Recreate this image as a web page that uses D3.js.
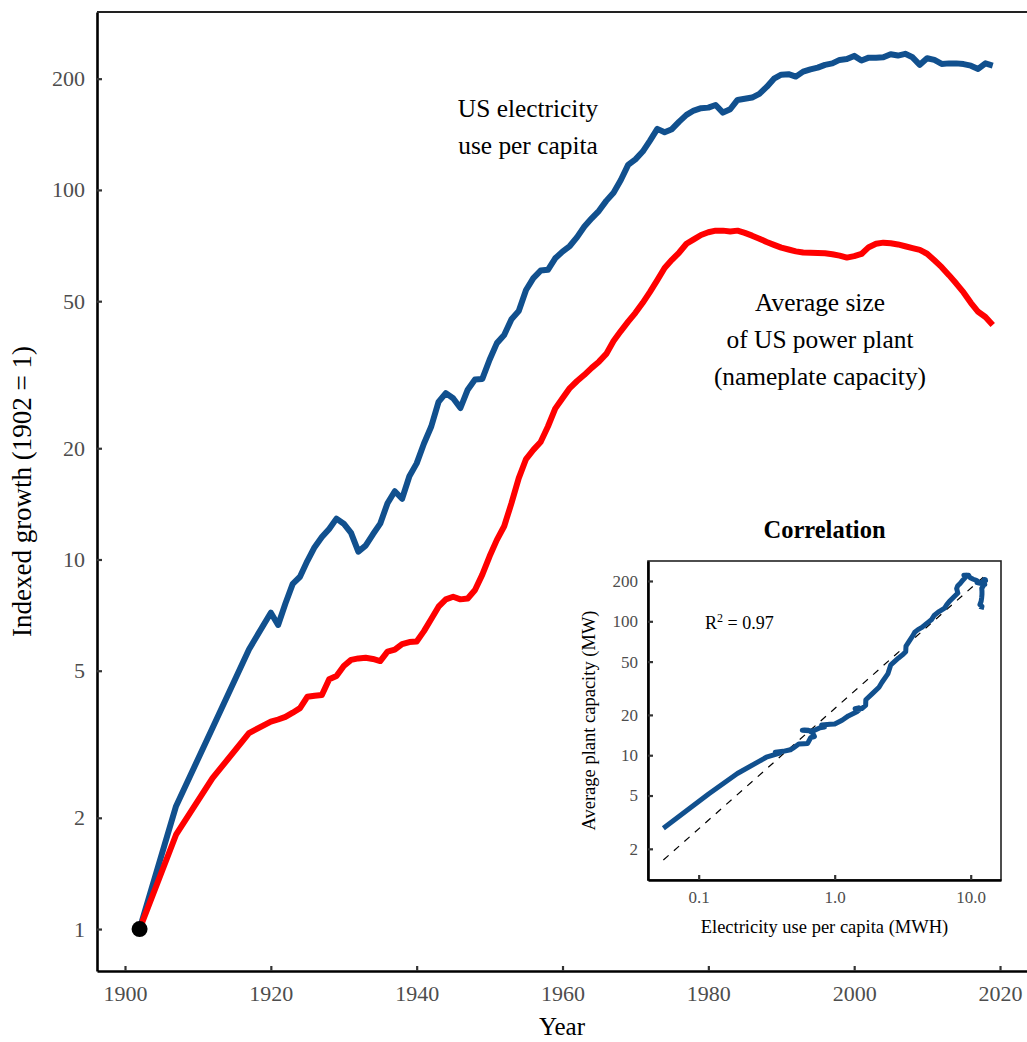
<!DOCTYPE html>
<html>
<head>
<meta charset="utf-8">
<script src="https://cdn.jsdelivr.net/npm/d3@7"></script>
<style>
  html, body { margin: 0; padding: 0; background: #fff; }
  svg, svg text, svg tspan { font-family: "Liberation Serif", "Times New Roman", Times, serif !important; }
</style>
</head>
<body>
<svg id="chart" width="1027" height="1042" font-family="Liberation Serif, serif"></svg>
<script>
// ---------- DATA ----------
const years = [1902, 1907, 1912, 1917,
  1920, 1921, 1922, 1923, 1924, 1925, 1926, 1927, 1928, 1929,
  1930, 1931, 1932, 1933, 1934, 1935, 1936, 1937, 1938, 1939,
  1940, 1941, 1942, 1943, 1944, 1945, 1946, 1947, 1948, 1949,
  1950, 1951, 1952, 1953, 1954, 1955, 1956, 1957, 1958, 1959,
  1960, 1961, 1962, 1963, 1964, 1965, 1966, 1967, 1968, 1969,
  1970, 1971, 1972, 1973, 1974, 1975, 1976, 1977, 1978, 1979,
  1980, 1981, 1982, 1983, 1984, 1985, 1986, 1987, 1988, 1989,
  1990, 1991, 1992, 1993, 1994, 1995, 1996, 1997, 1998, 1999,
  2000, 2001, 2002, 2003, 2004, 2005, 2006, 2007, 2008, 2009,
  2010, 2011, 2012, 2013, 2014, 2015, 2016, 2017, 2018, 2019];

// US electricity use per capita, indexed (1902 = 1)
const electricityIndex = [1, 2.15, 3.5, 5.71,
  7.18, 6.65, 7.6, 8.59, 8.98, 9.9, 10.8, 11.5, 12.1, 12.9,
  12.5, 11.8, 10.5, 10.9, 11.7, 12.5, 14.2, 15.3, 14.6, 16.8,
  18.2, 20.6, 22.9, 26.7, 28.2, 27.3, 25.7, 28.8, 30.7, 30.8,
  34.7, 38.5, 40.5, 44.7, 47.0, 53.6, 57.7, 60.5, 60.8, 65.3,
  68.1, 70.5, 74.5, 79.6, 83.8, 87.8, 93.4, 98.3, 106.4, 116.9,
  121, 127, 136, 146.3, 143.3, 146, 153, 159.6, 164, 166.4,
  167, 169.8, 161.9, 165.3, 175.2, 176.5, 177.8, 182, 190, 200,
  205, 205.7, 202.6, 209, 212, 214.3, 218, 220, 224.8, 226,
  230.5, 223.9, 228, 228, 228.5, 232.9, 231, 233.5, 228.5, 218,
  227.2, 224.8, 219.3, 220, 220, 219, 216.9, 212.5, 220, 217];

// Average size of US power plant (nameplate capacity), indexed (1902 = 1)
const plantSizeIndex = [1, 1.80, 2.56, 3.39,
  3.64, 3.69, 3.75, 3.85, 3.96, 4.25, 4.28, 4.30, 4.74, 4.84,
  5.15, 5.35, 5.40, 5.42, 5.38, 5.31, 5.63, 5.70, 5.90, 5.98,
  6.0, 6.4, 6.9, 7.45, 7.8, 7.93, 7.8, 7.84, 8.27, 9.1,
  10.2, 11.3, 12.3, 14.2, 16.6, 18.7, 19.8, 20.8, 22.9, 25.6,
  27.3, 29.1, 30.4, 31.6, 33.0, 34.3, 36.0, 39.0, 41.5, 44,
  46.5, 49.5, 53, 57, 61.5, 64.7, 67.7, 71.5, 73.5, 75.5,
  76.8, 77.6, 77.6, 77.2, 77.6, 76.5, 75.2, 73.8, 72.3, 71,
  69.8, 69, 68.2, 67.7, 67.6, 67.5, 67.4, 67, 66.4, 65.6,
  66.2, 67.1, 70, 71.5, 72, 71.7, 71.2, 70.4, 69.6, 68.8,
  67.2, 64.5, 61.8, 58.8, 55.8, 52.8, 49.5, 46.8, 45.3, 43.1];

// 1902 base levels (absolute units) used for the correlation inset
const electricityBase1902MWh = 0.055;
const plantSizeBase1902MW = 2.85;

// Fitted log-log line in the inset: capacity = fitAt1 * use^fitSlope
const fitSlope = 0.898;
const fitAt1 = 22.3;
const fitLabel = "0.97";

const mainYTicks = [1, 2, 5, 10, 20, 50, 100, 200];
const mainXTicks = [1900, 1920, 1940, 1960, 1980, 2000, 2020];
const insetYTicks = [2, 5, 10, 20, 50, 100, 200];
const insetXTicks = [0.1, 1, 10];
const insetXTickLabels = ["0.1", "1.0", "10.0"];

// ---------- DRAW ----------
const FONT = '"Liberation Serif", "Times New Roman", Times, serif';
const svg = d3.select("#chart");
const BLUE = "#11508e";
const RED = "#ff0000";
const TICKGREY = "#4d4d4d";

const M = { left: 97, right: 1027, top: 12, bottom: 971 };
const x = d3.scaleLinear().domain([1896.16, 2023.7]).range([M.left, M.right]);
const y = d3.scaleLog().domain([0.77, 303]).range([M.bottom, M.top]);

function styleAxis(g, fs) {
  g.attr("font-family", FONT);
  g.select(".domain").attr("stroke", "#000").attr("stroke-width", 2.6);
  g.selectAll(".tick line").attr("stroke", "#333").attr("stroke-width", 2.2);
  g.selectAll(".tick text").attr("fill", TICKGREY).style("font-size", fs + "px")
    .style("font-family", FONT);
}

// axes (inward ticks)
const gx = svg.append("g").attr("transform", `translate(0,${M.bottom})`)
  .call(d3.axisBottom(x).tickValues(mainXTicks).tickFormat(d3.format("d"))
    .tickSizeInner(-5).tickSizeOuter(0).tickPadding(14));
styleAxis(gx, 22);

const gy = svg.append("g").attr("transform", `translate(${M.left},0)`)
  .call(d3.axisLeft(y).tickValues(mainYTicks).tickFormat(d3.format("d"))
    .tickSizeInner(-5).tickSizeOuter(0).tickPadding(12));
styleAxis(gy, 22);

// top border
svg.append("line").attr("x1", M.left).attr("x2", M.right)
  .attr("y1", M.top).attr("y2", M.top)
  .attr("stroke", "#222").attr("stroke-width", 2);

function txt(sel) { return sel.style("font-family", FONT).attr("fill", "#000"); }

// axis titles
txt(svg.append("text")).attr("x", (M.left + M.right) / 2).attr("y", 1035)
  .attr("text-anchor", "middle").style("font-size", "25px").text("Year");
txt(svg.append("text"))
  .attr("transform", `translate(31,${(M.top + M.bottom) / 2}) rotate(-90)`)
  .attr("text-anchor", "middle").style("font-size", "27px")
  .text("Indexed growth (1902 = 1)");

// lines
const series = years.map((yr, i) => ({ yr, e: electricityIndex[i], p: plantSizeIndex[i] }));
const lineE = d3.line().x(d => x(d.yr)).y(d => y(d.e));
const lineP = d3.line().x(d => x(d.yr)).y(d => y(d.p));
svg.append("path").datum(series).attr("d", lineE).attr("fill", "none")
  .attr("stroke", BLUE).attr("stroke-width", 6).attr("stroke-linejoin", "round");
svg.append("path").datum(series).attr("d", lineP).attr("fill", "none")
  .attr("stroke", RED).attr("stroke-width", 6).attr("stroke-linejoin", "round");

// base point
svg.append("circle").attr("cx", x(years[0])).attr("cy", y(1)).attr("r", 8).attr("fill", "#000");

// annotations
const ann1 = txt(svg.append("text")).attr("text-anchor", "middle").style("font-size", "25.4px");
ann1.append("tspan").attr("x", 528).attr("y", 117).text("US electricity");
ann1.append("tspan").attr("x", 528).attr("y", 154).text("use per capita");
const ann2 = txt(svg.append("text")).attr("text-anchor", "middle").style("font-size", "25.4px");
ann2.append("tspan").attr("x", 820).attr("y", 311).text("Average size");
ann2.append("tspan").attr("x", 820).attr("y", 348).text("of US power plant");
ann2.append("tspan").attr("x", 820).attr("y", 385).text("(nameplate capacity)");

// ---------- INSET ----------
const I = { left: 648, right: 1001, top: 561, bottom: 880 };
const ix = d3.scaleLog().domain([0.0424, 16.7]).range([I.left, I.right]);
const iy = d3.scaleLog().domain([1.17, 282]).range([I.bottom, I.top]);

svg.append("rect").attr("x", I.left).attr("y", I.top)
  .attr("width", I.right - I.left).attr("height", I.bottom - I.top)
  .attr("fill", "#fff").attr("stroke", "#222").attr("stroke-width", 1.6);

const ix_g = svg.append("g").attr("transform", `translate(0,${I.bottom})`)
  .call(d3.axisBottom(ix).tickValues(insetXTicks)
    .tickFormat((d, i) => insetXTickLabels[i])
    .tickSizeInner(-5).tickSizeOuter(0).tickPadding(11));
styleAxis(ix_g, 17);

const iy_g = svg.append("g").attr("transform", `translate(${I.left},0)`)
  .call(d3.axisLeft(iy).tickValues(insetYTicks).tickFormat(d3.format("d"))
    .tickSizeInner(-5).tickSizeOuter(0).tickPadding(10));
styleAxis(iy_g, 17);

// fit line (dashed)
const uses = series.map(d => d.e * electricityBase1902MWh);
const fitX = d3.extent(uses);
const fitPts = fitX.map(u => [u, fitAt1 * Math.pow(u, fitSlope)]);
svg.append("path").datum(fitPts)
  .attr("d", d3.line().x(d => ix(d[0])).y(d => iy(d[1])))
  .attr("fill", "none").attr("stroke", "#000").attr("stroke-width", 1.2)
  .attr("stroke-dasharray", "7,7");

// correlation path
svg.append("path").datum(series)
  .attr("d", d3.line().x(d => ix(d.e * electricityBase1902MWh)).y(d => iy(d.p * plantSizeBase1902MW)))
  .attr("fill", "none").attr("stroke", BLUE).attr("stroke-width", 5)
  .attr("stroke-linejoin", "round");

// inset texts
txt(svg.append("text")).attr("x", (I.left + I.right) / 2).attr("y", 538)
  .attr("text-anchor", "middle").style("font-size", "24.5px").style("font-weight", "bold")
  .text("Correlation");
txt(svg.append("text")).attr("x", (I.left + I.right) / 2).attr("y", 933)
  .attr("text-anchor", "middle").style("font-size", "18.5px")
  .text("Electricity use per capita (MWH)");
txt(svg.append("text"))
  .attr("transform", `translate(595,${(I.top + I.bottom) / 2}) rotate(-90)`)
  .attr("text-anchor", "middle").style("font-size", "18.5px")
  .text("Average plant capacity (MW)");
const r2 = txt(svg.append("text")).attr("x", 705).attr("y", 629).style("font-size", "18px");
r2.append("tspan").text("R");
r2.append("tspan").attr("dy", -7).style("font-size", "12px").text("2");
r2.append("tspan").attr("dy", 7).text(" = " + fitLabel);
</script>
</body>
</html>
